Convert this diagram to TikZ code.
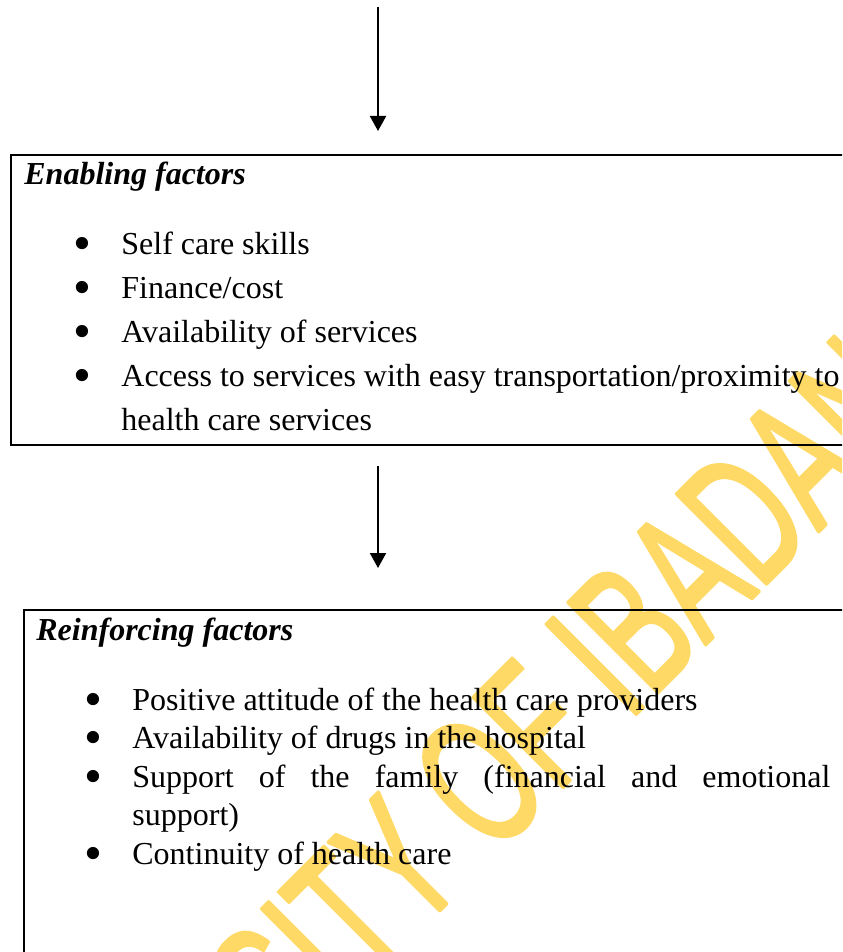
\documentclass[tikz,border=0pt]{standalone}
\usepackage{fontspec}
\setmainfont{Liberation Serif}
\newfontfamily\markfont{Liberation Sans}
\usepackage{xcolor}
\usepackage{graphicx}
\usetikzlibrary{arrows.meta,positioning}
\definecolor{ink}{HTML}{000000}
\definecolor{gold}{HTML}{FFD966}
\tikzset{
  factorbox/.style={draw=ink, line width=1pt, inner sep=0pt, anchor=north west, minimum width=445pt},
  boxtitle/.style={font=\fontsize{16}{19}\selectfont\bfseries\itshape, inner sep=0pt, anchor=base west},
  itemlist/.style={align=left, inner sep=0pt, anchor=base west},
  arr/.style={-{Triangle[length=7.5pt,width=8pt]}, line width=1pt, draw=ink},
  watermark/.style={text=gold, font=\markfont\fontsize{92}{92}\selectfont, inner sep=0pt, anchor=base west, transform shape}
}
\newcommand{\factoritem}[1]{\makebox[24pt][l]{\raisebox{-3pt}{\scalebox{1.6}{\textbullet}}}#1}
% outline the watermark letters with a round stroke
\newcommand{\strokedtext}[1]{\special{pdf:literal direct 2 Tr 1 J 1 j 2 w}#1\special{pdf:literal direct 0 Tr}}

\begin{document}
\begin{tikzpicture}[x=0.5pt,y=-0.5pt]
  \useasboundingbox (0,0) rectangle (842,952);
  \clip (0,0) rectangle (842,952);

  % watermark behind everything
  \begin{scope}[shift={(-18,1368)}, rotate=45, xscale=0.625]
    \node[watermark] (univMark) at (0,0) {\strokedtext{UNIVERSITY OF IBADAN}};
  \end{scope}

  \node[factorbox, minimum height=145pt] (enabling) at (10,154) {};
  \node[factorbox, minimum height=200pt] (reinforcing) at (23,609) {};

  \node[boxtitle] (enablingTitle) at (24,185) {Enabling factors};
  \node[boxtitle] (reinforcingTitle) at (36,640) {Reinforcing factors};

  % lists are placed by the baseline of their last line
  \node[itemlist, font=\fontsize{16}{21.9}\selectfont] (enablingList) at (73,430) {%
    \factoritem{Self care skills}\\
    \factoritem{Finance/cost}\\
    \factoritem{Availability of services}\\
    \factoritem{Access to services with easy transportation/proximity to}\\
    \hspace*{24pt}health care services};

  \node[itemlist, font=\fontsize{16}{19.2}\selectfont] (reinforcingList) at (84,864) {%
    \factoritem{Positive attitude of the health care providers}\\
    \factoritem{Availability of drugs in the hospital}\\
    \factoritem{\makebox[349pt][s]{Support of the family (financial and emotional}}\\
    \hspace*{24pt}support)\\
    \factoritem{Continuity of health care}};

  % arrows between the factor boxes
  \coordinate (entryTop) at (378,7);
  \draw[arr, shorten >=11.5pt] (entryTop) -- (entryTop |- enabling.north);
  \draw[arr, shorten <=10pt, shorten >=20.5pt] (enabling.south -| entryTop) -- (reinforcing.north -| entryTop);
\end{tikzpicture}
\end{document}
